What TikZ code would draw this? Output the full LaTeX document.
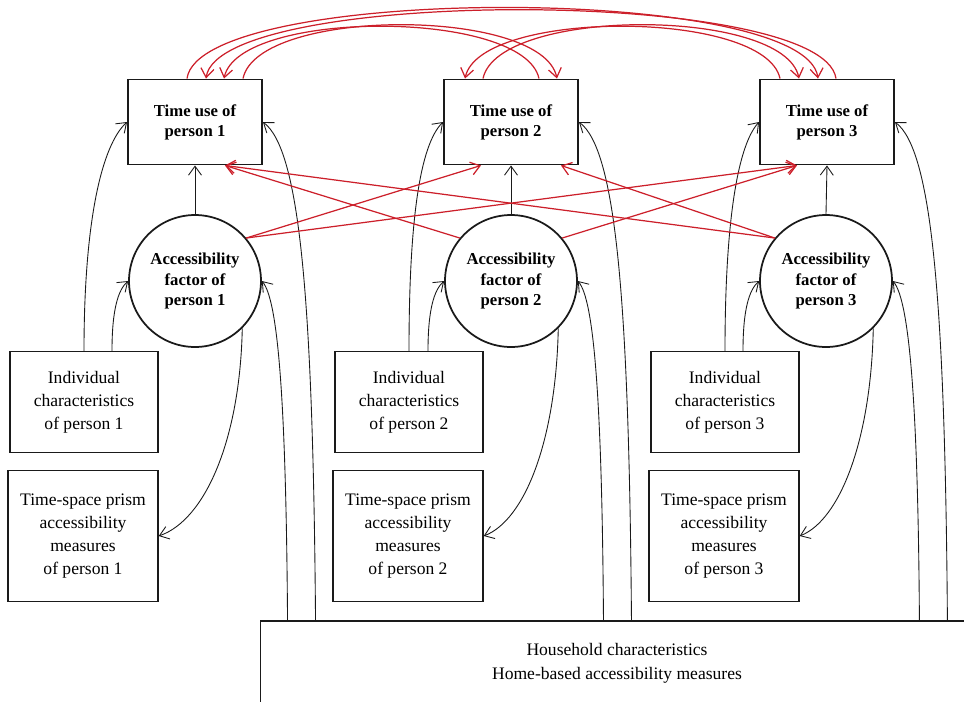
\documentclass[tikz,border=0pt]{standalone}
\usepackage{fontspec}
\setmainfont{Liberation Serif}
\usetikzlibrary{arrows.meta,positioning,calc}
\definecolor{ink}{HTML}{1A1A1A}
\definecolor{linkred}{HTML}{CC1F2A}
\tikzset{
  tubox/.style={draw=ink,fill=white,line width=1.1pt,
                minimum width=2.68cm,minimum height=1.7cm,
                align=center,font=\fontsize{9.5}{11.5}\selectfont\bfseries,inner sep=2pt},
  accfactor/.style={draw=ink,fill=white,circle,line width=1pt,
                    minimum size=2.64cm,inner sep=0pt,
                    align=center,font=\fontsize{9.5}{11.5}\selectfont\bfseries},
  infobox/.style={draw=ink,fill=white,line width=0.8pt,
                  minimum width=2.96cm,minimum height=2.02cm,
                  align=center,font=\fontsize{10}{13}\selectfont,inner sep=2pt},
  prismbox/.style={infobox,minimum width=3.0cm,minimum height=2.62cm},
  hhbox/.style={draw=ink,line width=0.6pt,
                minimum width=14.28cm,minimum height=1.68cm,
                align=center,font=\fontsize{10}{13.6}\selectfont},
  flowarr/.style={-{Straight Barb[length=1.8mm,width=2.6mm]},line width=0.5pt,color=ink},
  redarr/.style={flowarr,color=linkred,line width=0.7pt}
}

\begin{document}
\begin{tikzpicture}[x=0.02cm,y=-0.02cm]
  \useasboundingbox (0,0) rectangle (964,701);
  \clip (0,0) rectangle (964,701);

  % time use
  \node[tubox] (tu1) at (195,122) {Time use of\\person 1};
  \node[tubox] (tu2) at (511,122) {Time use of\\person 2};
  \node[tubox] (tu3) at (827,122) {Time use of\\person 3};

  % accessibility factors
  \node[accfactor] (af1) at (195,281) {Accessibility\\factor of\\person 1};
  \node[accfactor] (af2) at (511,281) {Accessibility\\factor of\\person 2};
  \node[accfactor] (af3) at (826,281) {Accessibility\\factor of\\person 3};

  % individual characteristics
  \node[infobox] (ic1) at (84,402) {Individual\\characteristics\\of person 1};
  \node[infobox] (ic2) at (409,402) {Individual\\characteristics\\of person 2};
  \node[infobox] (ic3) at (725,402) {Individual\\characteristics\\of person 3};

  % time-space prism measures
  \node[prismbox] (ts1) at (83,536) {Time-space prism\\accessibility\\measures\\of person 1};
  \node[prismbox] (ts2) at (408,536) {Time-space prism\\accessibility\\measures\\of person 2};
  \node[prismbox] (ts3) at (724,536) {Time-space prism\\accessibility\\measures\\of person 3};

  % household
  \node[hhbox] (hh) at (617,663) {Household characteristics\\Home-based accessibility measures};

  % person 1
  \draw[flowarr] (af1.north) -- (tu1.south);
  \draw[flowarr] (ic1.north) .. controls (84,220) and (102,145) .. (tu1.west);
  \draw[flowarr] ([xshift=0.56cm]ic1.north) .. controls (112,310) and (118,290) .. (af1.west);
  \draw[flowarr] (af1.-45) .. controls (240,440) and (205,520) .. (ts1.east);
  \draw[flowarr] ([xshift=0.56cm]hh.north west) .. controls (286,400) and (278,300) .. (af1.east);
  \draw[flowarr] ([xshift=1.12cm]hh.north west) .. controls (313,300) and (300,150) .. (tu1.east);

  % person 2
  \draw[flowarr] (af2.north) -- (tu2.south);
  \draw[flowarr] (ic2.north) .. controls (409,220) and (420,145) .. (tu2.west);
  \draw[flowarr] ([xshift=0.38cm]ic2.north) .. controls (428,310) and (434,290) .. (af2.west);
  \draw[flowarr] (af2.-45) .. controls (556,440) and (525,520) .. (ts2.east);
  \draw[flowarr] ([xshift=6.88cm]hh.north west) .. controls (602,400) and (594,300) .. (af2.east);
  \draw[flowarr] ([xshift=7.44cm]hh.north west) .. controls (629,300) and (616,150) .. (tu2.east);

  % person 3
  \draw[flowarr] (af3.north) -- (tu3.south);
  \draw[flowarr] (ic3.north) .. controls (725,220) and (738,145) .. (tu3.west);
  \draw[flowarr] ([xshift=0.36cm]ic3.north) .. controls (743,310) and (749,290) .. (af3.west);
  \draw[flowarr] (af3.-45) .. controls (871,440) and (840,520) .. (ts3.east);
  \draw[flowarr] ([xshift=13.2cm]hh.north west) .. controls (918,400) and (909,300) .. (af3.east);
  \draw[flowarr] ([xshift=13.76cm]hh.north west) .. controls (945,300) and (932,150) .. (tu3.east);

  % cross effects
  \draw[redarr] (af1.40) -- ([xshift=-0.6cm]tu2.south);
  \draw[redarr] (af1.40) -- ([xshift=-0.6cm]tu3.south);
  \draw[redarr] (af2.140) -- ([xshift=0.6cm]tu1.south);
  \draw[redarr] (af2.40) -- ([xshift=-0.6cm]tu3.south);
  \draw[redarr] (af3.140) -- ([xshift=0.6cm]tu1.south);
  \draw[redarr] (af3.140) -- ([xshift=1.0cm]tu2.south);

  % time use links
  \draw[redarr] ([xshift=0.96cm]tu1.north) .. controls (258,7) and (542,7) .. ([xshift=0.92cm]tu2.north);
  \draw[redarr] ([xshift=0.56cm]tu2.north) .. controls (524,9) and (239,9) .. ([xshift=0.58cm]tu1.north);
  \draw[redarr] ([xshift=-0.56cm]tu2.north) .. controls (498,7) and (784,7) .. ([xshift=-0.56cm]tu3.north);
  \draw[redarr] ([xshift=-0.94cm]tu3.north) .. controls (765,9) and (480,9) .. ([xshift=-0.92cm]tu2.north);
  \draw[redarr] ([xshift=-0.16cm]tu1.north) .. controls (200,-16) and (805,-16) .. ([xshift=-0.18cm]tu3.north);
  \draw[redarr] ([xshift=0.18cm]tu3.north) .. controls (823,-13) and (219,-13) .. ([xshift=0.22cm]tu1.north);
\end{tikzpicture}
\end{document}
